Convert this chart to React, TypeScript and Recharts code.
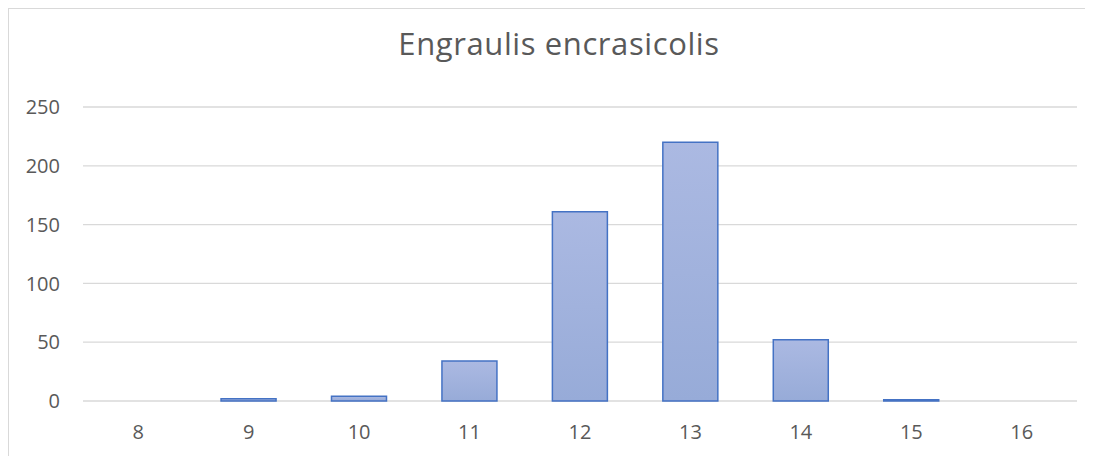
import { BarChart, Bar, XAxis, YAxis, CartesianGrid } from 'recharts'

const lengths = ['8', '9', '10', '11', '12', '13', '14', '15', '16']
const counts = [0, 2, 4, 34, 161, 220, 52, 1, 0]
const yTicks = [0, 50, 100, 150, 200, 250]

const data = lengths.map((l, i) => ({ length: l, count: counts[i] }))

const TEXT = '#595959'
const FONT = '"Open Sans", sans-serif'

export default function App() {
  return (
    <div
      style={{
        position: 'relative',
        marginLeft: -1,
        width: 1100,
        height: 450,
        borderTop: '1px solid #d9d9d9',
        borderLeft: '2px solid #d9d9d9',
        background: '#fff',
        fontFamily: FONT,
      }}
    >
      <div
        style={{
          position: 'absolute',
          top: 16,
          left: 0,
          width: '100%',
          textAlign: 'center',
          fontSize: 31,
          letterSpacing: 0.6,
          color: TEXT,
          lineHeight: '36px',
        }}
      >
        Engraulis encrasicolis
      </div>
      <BarChart
        width={1100}
        height={450}
        data={data}
        margin={{ top: 98, right: 32, bottom: 28, left: 19 }}
        barCategoryGap="25%"
      >
        <defs>
          <linearGradient id="barFill" x1="0" y1="0" x2="0" y2="1">
            <stop offset="0%" stopColor="#abb9e2" />
            <stop offset="100%" stopColor="#97abd8" />
          </linearGradient>
        </defs>
        <CartesianGrid vertical={false} stroke="#d9d9d9" strokeWidth={1.3} />
        <XAxis
          dataKey="length"
          axisLine={false}
          tickLine={false}
          tickSize={0}
          tickMargin={24}
          height={30}
          tick={{ fontSize: 20, fill: TEXT, fontFamily: FONT }}
        />
        <YAxis
          domain={[0, 250]}
          ticks={yTicks}
          axisLine={false}
          tickLine={false}
          tickSize={0}
          tickMargin={23}
          width={55}
          tick={{ fontSize: 20, fill: TEXT, fontFamily: FONT }}
        />
        <Bar
          dataKey="count"
          fill="url(#barFill)"
          stroke="#4472c4"
          strokeWidth={1.5}
          isAnimationActive={false}
        />
      </BarChart>
    </div>
  )
}
